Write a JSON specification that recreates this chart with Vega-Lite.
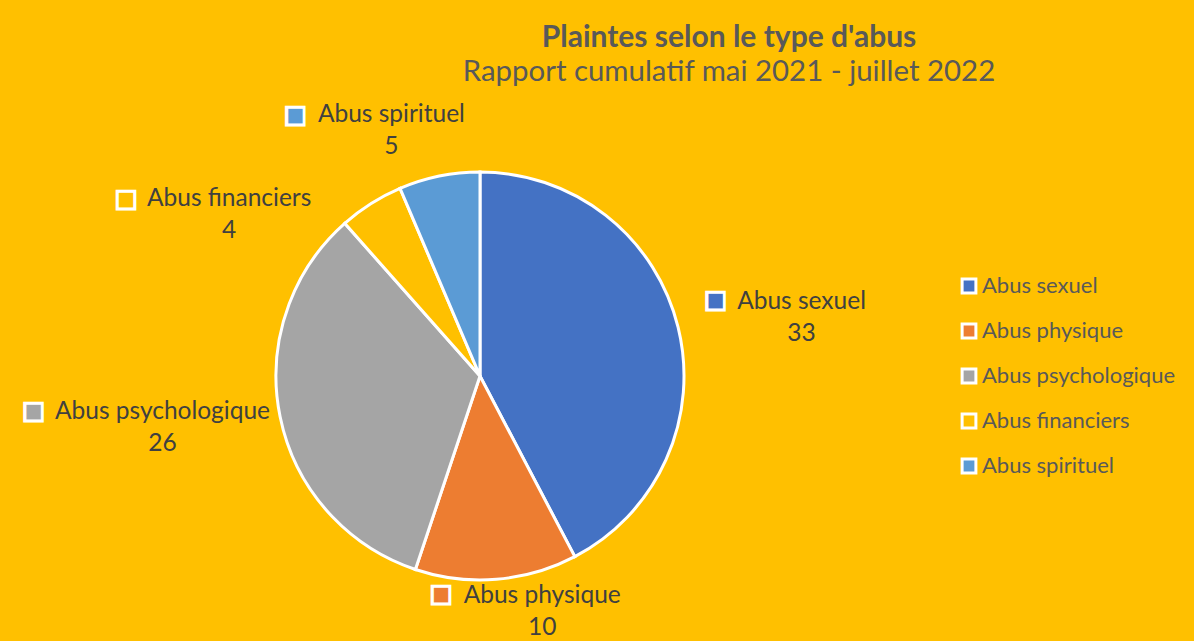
{
  "$schema": "https://vega.github.io/schema/vega-lite/v6.json",
  "autosize": "none",
  "width": 960,
  "height": 530,
  "padding": {"left": 0, "top": 111, "right": 234, "bottom": 0},
  "background": "#FFC000",
  "config": {"view": {"stroke": null}, "font": "Lato"},
  "title": {
    "text": "Plaintes selon le type d'abus",
    "subtitle": "Rapport cumulatif mai 2021 - juillet 2022",
    "anchor": "middle",
    "frame": "group",
    "dx": 249,
    "offset": -66,
    "font": "Lato",
    "fontSize": 30,
    "fontWeight": "bold",
    "color": "#595959",
    "subtitleFont": "Lato",
    "subtitleFontSize": 29.4,
    "subtitleColor": "#595959",
    "subtitlePadding": 5
  },
  "data": {
    "values": [
      {"type": "Abus sexuel", "value": 33, "ordre": 1},
      {"type": "Abus physique", "value": 10, "ordre": 2},
      {"type": "Abus psychologique", "value": 26, "ordre": 3},
      {"type": "Abus financiers", "value": 4, "ordre": 4},
      {"type": "Abus spirituel", "value": 5, "ordre": 5}
    ]
  },
  "transform": [{"calculate": "datum.type + '\\n' + datum.value", "as": "label"}],
  "encoding": {
    "theta": {"field": "value", "type": "quantitative", "stack": true},
    "order": {"field": "ordre", "type": "quantitative"}
  },
  "layer": [
    {
      "mark": {"type": "arc", "radius": 204, "stroke": "white", "strokeWidth": 3},
      "encoding": {
        "color": {
          "field": "type",
          "type": "nominal",
          "scale": {
            "domain": ["Abus sexuel", "Abus physique", "Abus psychologique", "Abus financiers", "Abus spirituel"],
            "range": ["#4472C4", "#ED7D31", "#A5A5A5", "#FFC000", "#5B9BD5"]
          },
          "legend": {
            "title": null,
            "orient": "none",
            "legendX": 958,
            "legendY": 164,
            "symbolType": "square",
            "symbolSize": 190,
            "symbolStrokeColor": "white",
            "symbolStrokeWidth": 3,
            "symbolOpacity": 1,
            "labelFont": "Lato",
            "labelFontSize": 22,
            "labelColor": "#595959",
            "labelLimit": 400,
            "labelOffset": 2,
            "rowPadding": 19
          }
        }
      }
    },
    {
      "mark": {"type": "text", "radius": 326, "dx": 5, "dy": 4, "lineBreak": "\n", "lineHeight": 32, "fontSize": 24.5, "font": "Lato", "color": "#404040", "align": "center", "baseline": "middle"},
      "encoding": {"text": {"condition": {"test": "datum.type === 'Abus sexuel'", "field": "label"}, "value": ""}}
    },
    {
      "mark": {"type": "text", "radius": 239, "dx": 43, "dy": -18, "lineBreak": "\n", "lineHeight": 32, "fontSize": 24.5, "font": "Lato", "color": "#404040", "align": "center", "baseline": "middle"},
      "encoding": {"text": {"condition": {"test": "datum.type === 'Abus physique'", "field": "label"}, "value": ""}}
    },
    {
      "mark": {"type": "text", "radius": 321, "dx": -3, "dy": -28, "lineBreak": "\n", "lineHeight": 32, "fontSize": 24.5, "font": "Lato", "color": "#404040", "align": "center", "baseline": "middle"},
      "encoding": {"text": {"condition": {"test": "datum.type === 'Abus psychologique'", "field": "label"}, "value": ""}}
    },
    {
      "mark": {"type": "text", "radius": 271, "dx": -106, "dy": 52, "lineBreak": "\n", "lineHeight": 32, "fontSize": 24.5, "font": "Lato", "color": "#404040", "align": "center", "baseline": "middle"},
      "encoding": {"text": {"condition": {"test": "datum.type === 'Abus financiers'", "field": "label"}, "value": ""}}
    },
    {
      "mark": {"type": "text", "radius": 258, "dx": -37, "dy": -8, "lineBreak": "\n", "lineHeight": 32, "fontSize": 24.5, "font": "Lato", "color": "#404040", "align": "center", "baseline": "middle"},
      "encoding": {"text": {"condition": {"test": "datum.type === 'Abus spirituel'", "field": "label"}, "value": ""}}
    },
    {
      "mark": {"type": "text", "font": "DejaVu Sans", "fontSize": 23, "stroke": "white", "strokeWidth": 3, "align": "center", "baseline": "middle", "radius": 326, "dx": -81, "dy": 2},
      "encoding": {
        "color": {"field": "type", "type": "nominal"},
        "text": {"condition": {"test": "datum.type === 'Abus sexuel'", "value": "■"}, "value": ""}
      }
    },
    {
      "mark": {"type": "text", "font": "DejaVu Sans", "fontSize": 23, "stroke": "white", "strokeWidth": 3, "align": "center", "baseline": "middle", "radius": 239, "dx": -58, "dy": -20},
      "encoding": {
        "color": {"field": "type", "type": "nominal"},
        "text": {"condition": {"test": "datum.type === 'Abus physique'", "value": "■"}, "value": ""}
      }
    },
    {
      "mark": {"type": "text", "font": "DejaVu Sans", "fontSize": 23, "stroke": "white", "strokeWidth": 3, "align": "center", "baseline": "middle", "radius": 321, "dx": -132, "dy": -29},
      "encoding": {
        "color": {"field": "type", "type": "nominal"},
        "text": {"condition": {"test": "datum.type === 'Abus psychologique'", "value": "■"}, "value": ""}
      }
    },
    {
      "mark": {"type": "text", "font": "DejaVu Sans", "fontSize": 23, "stroke": "white", "strokeWidth": 3, "align": "center", "baseline": "middle", "radius": 271, "dx": -209, "dy": 52},
      "encoding": {
        "color": {"field": "type", "type": "nominal"},
        "text": {"condition": {"test": "datum.type === 'Abus financiers'", "value": "■"}, "value": ""}
      }
    },
    {
      "mark": {"type": "text", "font": "DejaVu Sans", "fontSize": 23, "stroke": "white", "strokeWidth": 3, "align": "center", "baseline": "middle", "radius": 258, "dx": -133, "dy": -8},
      "encoding": {
        "color": {"field": "type", "type": "nominal"},
        "text": {"condition": {"test": "datum.type === 'Abus spirituel'", "value": "■"}, "value": ""}
      }
    }
  ]
}
